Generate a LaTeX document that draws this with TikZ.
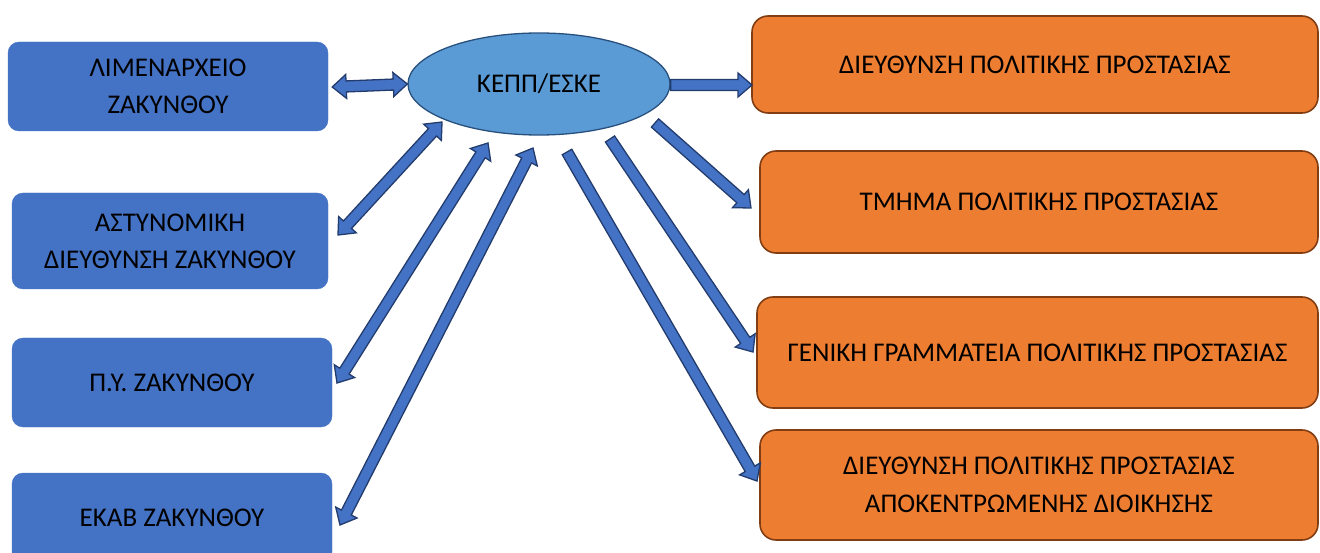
\documentclass[tikz,border=0pt]{standalone}
\usepackage{fontspec}
\setmainfont{Carlito}
\usetikzlibrary{positioning,calc,shapes.geometric}
\definecolor{agencyblue}{RGB}{68,114,196}
\definecolor{centerblue}{RGB}{91,155,213}
\definecolor{centerline}{RGB}{40,80,125}
\definecolor{civilorange}{RGB}{237,125,49}
\definecolor{civilline}{RGB}{130,62,18}
\definecolor{arrowline}{RGB}{35,60,110}
\tikzset{
    agency/.style={rectangle, rounded corners=11pt, fill=agencyblue, draw=agencyblue, align=center, inner sep=0pt, font=\fontsize{27}{37}\selectfont},
    civil/.style={rectangle, rounded corners=16pt, fill=civilorange, draw=civilline, line width=1.6pt, align=center, inner sep=0pt, font=\fontsize{27}{38}\selectfont},
    hub/.style={ellipse, fill=centerblue, draw=centerline, line width=1.3pt, inner sep=0pt, font=\fontsize{27}{30}\selectfont},
    block arrow/.style={fill=agencyblue, draw=arrowline, line width=1.3pt, line join=miter}
}
% block arrow from #1 to #2 (head at #2)
\newcommand{\onearrow}[2]{%
  \draw[block arrow] let \p1=($(#2)-(#1)$), \n1={atan2(\y1,\x1)}, \n2={veclen(\x1,\y1)} in
    ($(#1)+({\n1+90}:5.5)$) -- ($(#1)+(\n1:{\n2-14})+({\n1+90}:5.5)$)
    -- ($(#1)+(\n1:{\n2-14})+({\n1+90}:12)$) -- (#2)
    -- ($(#1)+(\n1:{\n2-14})+({\n1-90}:12)$) -- ($(#1)+(\n1:{\n2-14})+({\n1-90}:5.5)$)
    -- ($(#1)+({\n1-90}:5.5)$) -- cycle;}
% block arrow with heads at both ends
\newcommand{\twoarrow}[2]{%
  \draw[block arrow] let \p1=($(#2)-(#1)$), \n1={atan2(\y1,\x1)}, \n2={veclen(\x1,\y1)} in
    (#1) -- ($(#1)+(\n1:14)+({\n1+90}:12)$) -- ($(#1)+(\n1:14)+({\n1+90}:5.5)$)
    -- ($(#1)+(\n1:{\n2-14})+({\n1+90}:5.5)$) -- ($(#1)+(\n1:{\n2-14})+({\n1+90}:12)$)
    -- (#2)
    -- ($(#1)+(\n1:{\n2-14})+({\n1-90}:12)$) -- ($(#1)+(\n1:{\n2-14})+({\n1-90}:5.5)$)
    -- ($(#1)+(\n1:14)+({\n1-90}:5.5)$) -- ($(#1)+(\n1:14)+({\n1-90}:12)$) -- cycle;}

\begin{document}
\begin{tikzpicture}[x=1pt, y=1pt]
    \useasboundingbox (0,0) rectangle (1320,-553);
    \clip (0,0) rectangle (1320,-553);

    % Central node
    \node[hub, minimum width=262pt, minimum height=102pt] (kepp) at (539,-84) {ΚΕΠΠ/ΕΣΚΕ};

    % Left boxes - local agencies
    \node[agency, minimum width=320pt, minimum height=89pt] (lim) at (168,-86.5) {ΛΙΜΕΝΑΡΧΕΙΟ\\ΖΑΚΥΝΘΟΥ};
    \node[agency, minimum width=316pt, minimum height=96pt] (ast) at (170,-241) {ΑΣΤΥΝΟΜΙΚΗ\\ΔΙΕΥΘΥΝΣΗ ΖΑΚΥΝΘΟΥ};
    \node[agency, minimum width=320pt, minimum height=89pt] (py) at (172,-382.5) {Π.Υ. ΖΑΚΥΝΘΟΥ};
    \node[agency, minimum width=320pt, minimum height=90pt] (ekab) at (172,-518) {ΕΚΑΒ ΖΑΚΥΝΘΟΥ};

    % Right boxes - civil protection
    \node[civil, minimum width=566pt, minimum height=97pt] (dpp) at (1035,-64.5) {ΔΙΕΥΘΥΝΣΗ ΠΟΛΙΤΙΚΗΣ ΠΡΟΣΤΑΣΙΑΣ};
    \node[civil, minimum width=558pt, minimum height=102pt] (tpp) at (1039,-202) {ΤΜΗΜΑ ΠΟΛΙΤΙΚΗΣ ΠΡΟΣΤΑΣΙΑΣ};
    \node[civil, minimum width=561pt, minimum height=111pt] (ggpp) at (1037.5,-352.5) {ΓΕΝΙΚΗ ΓΡΑΜΜΑΤΕΙΑ ΠΟΛΙΤΙΚΗΣ ΠΡΟΣΤΑΣΙΑΣ};
    \node[civil, minimum width=558pt, minimum height=110pt] (dppad) at (1039,-485) {ΔΙΕΥΘΥΝΣΗ ΠΟΛΙΤΙΚΗΣ ΠΡΟΣΤΑΣΙΑΣ\\ΑΠΟΚΕΝΤΡΩΜΕΝΗΣ ΔΙΟΙΚΗΣΗΣ};

    % Arrow ends
    \coordinate (lim-r) at ($(lim.east)+(4,-0.5)$);
    \coordinate (kepp-w) at (kepp.west);
    \coordinate (ast-r) at (338,-235);
    \coordinate (kepp-a) at (442,-122);
    \coordinate (py-r) at (337,-383);
    \coordinate (kepp-b) at (488,-143);
    \coordinate (ekab-r) at (340,-525);
    \coordinate (kepp-c) at (533,-148);
    \coordinate (kepp-e) at ($(kepp.east)+(0,-1)$);
    \coordinate (dpp-l) at (752,-85);
    \coordinate (kepp-d) at (655,-123);
    \coordinate (kepp-f) at (610,-139);
    \coordinate (kepp-g) at (567,-152);
    \coordinate (tpp-l) at (751,-208);
    \coordinate (ggpp-l) at (753,-352);
    \coordinate (dppad-l) at (757,-481);

    % Two-way links to the left boxes
    \twoarrow{lim-r}{kepp-w}
    \twoarrow{ast-r}{kepp-a}
    \twoarrow{py-r}{kepp-b}
    \twoarrow{ekab-r}{kepp-c}

    % One-way links to the right boxes
    \onearrow{kepp-e}{dpp-l}
    \onearrow{kepp-d}{tpp-l}
    \onearrow{kepp-f}{ggpp-l}
    \onearrow{kepp-g}{dppad-l}
\end{tikzpicture}
\end{document}
